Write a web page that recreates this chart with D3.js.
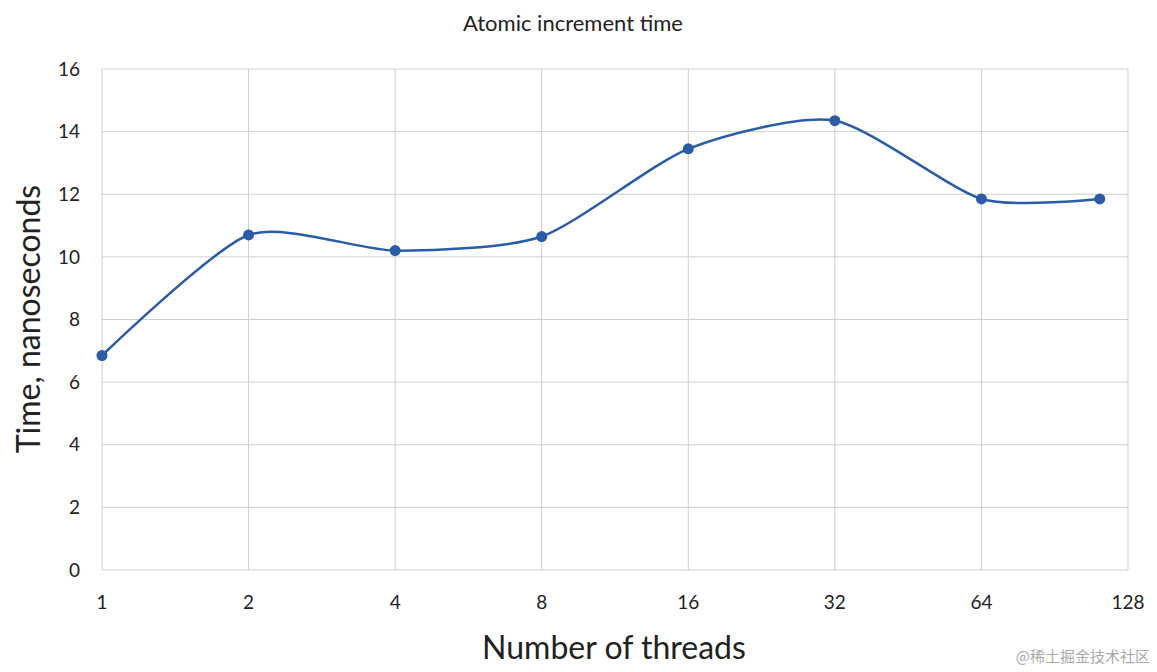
<!DOCTYPE html>
<html>
<head>
<meta charset="utf-8">
<style>
  body { margin: 0; background: #fff; font-family: Lato, "Open Sans", sans-serif; }
</style>
<script src="https://cdn.jsdelivr.net/npm/d3@7"></script>
</head>
<body>
<svg id="chart" width="1157" height="672"></svg>
<script>
var threads = [1, 2, 4, 8, 16, 32, 64, 112];
var times = [6.85, 10.7, 10.2, 10.65, 13.45, 14.35, 11.85, 11.85];
var xTicks = [1, 2, 4, 8, 16, 32, 64, 128];
var yTicks = [0, 2, 4, 6, 8, 10, 12, 14, 16];

var svg = d3.select("#chart");
var m = { left: 102, right: 1128, top: 69, bottom: 570 };

var x = d3.scaleLog().base(2).domain([1, 128]).range([m.left, m.right]);
var y = d3.scaleLinear().domain([0, 16]).range([m.bottom, m.top]);

// grid
svg.append("g").selectAll("line").data(yTicks).enter().append("line")
  .attr("x1", m.left).attr("x2", m.right)
  .attr("y1", d => y(d)).attr("y2", d => y(d))
  .attr("stroke", "#cfcfcf").attr("stroke-width", 1);
svg.append("g").selectAll("line").data(xTicks).enter().append("line")
  .attr("x1", d => x(d)).attr("x2", d => x(d))
  .attr("y1", m.top).attr("y2", m.bottom)
  .attr("stroke", "#cfcfcf").attr("stroke-width", 1);

// tick labels
svg.append("g").selectAll("text").data(yTicks).enter().append("text")
  .attr("x", m.left - 22).attr("y", d => y(d)).attr("dy", "0.35em")
  .attr("text-anchor", "end").attr("font-size", 19).attr("fill", "#222")
  .text(d => d);
svg.append("g").selectAll("text").data(xTicks).enter().append("text")
  .attr("x", d => x(d)).attr("y", 609)
  .attr("text-anchor", "middle").attr("font-size", 19).attr("fill", "#222")
  .text(d => d);

// titles
svg.append("text").attr("x", 573).attr("y", 31).attr("text-anchor", "middle")
  .attr("font-size", 22).attr("fill", "#222").text("Atomic increment time");
svg.append("text").attr("x", 614).attr("y", 659).attr("text-anchor", "middle")
  .attr("font-size", 32).attr("fill", "#222").text("Number of threads");
svg.append("text").attr("transform", "translate(40,319) rotate(-90)")
  .attr("text-anchor", "middle").attr("font-size", 32).attr("fill", "#222")
  .text("Time, nanoseconds");

// series
var pts = threads.map((t, i) => [x(t), y(times[i])]);
svg.append("path").datum(pts)
  .attr("d", d3.line().curve(d3.curveCardinal.tension(0.3)))
  .attr("fill", "none").attr("stroke", "#2a5ca8").attr("stroke-width", 2.5);
svg.append("g").selectAll("circle").data(pts).enter().append("circle")
  .attr("cx", d => d[0]).attr("cy", d => d[1]).attr("r", 5.5)
  .attr("fill", "#2a5ca8");

// watermark
svg.append("text").attr("x", 1150).attr("y", 662).attr("text-anchor", "end")
  .attr("font-size", 15).attr("fill", "#aaa")
  .attr("font-family", "'Noto Sans CJK SC', sans-serif").text("@稀土掘金技术社区");
</script>
</body>
</html>
